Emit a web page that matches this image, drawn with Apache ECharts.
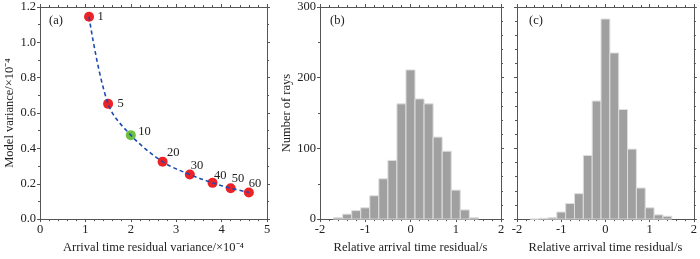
<!DOCTYPE html>
<html>
<head>
<meta charset="utf-8">
<script src="https://cdn.jsdelivr.net/npm/echarts@6/dist/echarts.min.js"></script>
<style>
html, body { margin: 0; padding: 0; background: #fff; }
#main { width: 700px; height: 259px; }
</style>
</head>
<body>
<div id="main"></div>
<script>
// L-curve (a): damping / iteration labels and variances
var lcurveLabels = ['1', '5', '10', '20', '30', '40', '50', '60'];
var residualVar = [1.08, 1.5, 2.0, 2.7, 3.3, 3.8, 4.2, 4.6];
var modelVar = [1.145, 0.652, 0.475, 0.325, 0.252, 0.205, 0.175, 0.151];

// histograms (b) and (c): bin centres and counts
var binCenters = [-1.6, -1.4, -1.2, -1.0, -0.8, -0.6, -0.4, -0.2, 0.0, 0.2, 0.4, 0.6, 0.8, 1.0, 1.2, 1.4];
var countsB = [2, 7, 12, 16, 33, 57, 83, 163, 211, 170, 163, 116, 96, 41, 13, 2];
var countsC = [0, 1, 2, 10, 22, 36, 90, 167, 283, 235, 155, 99, 44, 16, 6, 4];

var myChart = echarts.init(document.getElementById('main'));
var font = 'Liberation Serif';
var fs = 12.5;
var axisColor = '#555';

function mkAxis(o) {
	var base = {
		axisLine: { show: true, onZero: false, lineStyle: { color: axisColor, width: 1 } },
		axisTick: { show: true, inside: false, length: 3, lineStyle: { color: axisColor } },
		minorTick: { show: true, length: 2, splitNumber: 5, lineStyle: { color: axisColor } },
		splitLine: { show: false },
		axisLabel: { show: true, color: '#222', fontFamily: font, fontSize: fs, margin: 4 },
		nameTextStyle: { color: '#222', fontFamily: font, fontSize: fs }
	};
	return echarts.util.merge(base, o, true);
}

var binW = binCenters[1] - binCenters[0];
function histRender(params, api) {
	var x = api.value(0), y = api.value(1);
	var p0 = api.coord([x - binW / 2, 0]);
	var p1 = api.coord([x + binW / 2, y]);
	return {
		type: 'rect',
		shape: { x: p0[0], y: p1[1], width: p1[0] - p0[0], height: p0[1] - p1[1] },
		style: { fill: '#a0a0a0', stroke: '#dedede', lineWidth: 1 }
	};
}

var grids = [
	{ left: 40, right: 433, top: 7, bottom: 30 },
	{ left: 320, right: 199, top: 7, bottom: 29 },
	{ left: 517, right: 3, top: 7, bottom: 29 }
];

var xAxes = [], yAxes = [];
// panel a
xAxes.push(mkAxis({ gridIndex: 0, type: 'value', min: 0, max: 5, interval: 1, position: 'bottom',
	name: 'Arrival time residual variance/×10⁻⁴', nameLocation: 'middle', nameGap: 15 }));
xAxes.push(mkAxis({ gridIndex: 0, type: 'value', min: 0, max: 5, interval: 1, position: 'top', axisLabel: { show: false } }));
yAxes.push(mkAxis({ gridIndex: 0, type: 'value', min: 0, max: 1.2, interval: 0.2, position: 'left',
	minorTick: { splitNumber: 2 },
	axisLabel: { formatter: function(v) { return v.toFixed(1); } },
	name: 'Model variance/×10⁻⁴', nameLocation: 'middle', nameGap: 19 }));
yAxes.push(mkAxis({ gridIndex: 0, type: 'value', min: 0, max: 1.2, interval: 0.2, position: 'right',
	minorTick: { splitNumber: 2 }, axisLabel: { show: false } }));
// panels b, c
[1, 2].forEach(function(g) {
	xAxes.push(mkAxis({ gridIndex: g, type: 'value', min: -2, max: 2, interval: 1, position: 'bottom',
		name: 'Relative arrival time residual/s', nameLocation: 'middle', nameGap: 16 }));
	xAxes.push(mkAxis({ gridIndex: g, type: 'value', min: -2, max: 2, interval: 1, position: 'top', axisLabel: { show: false } }));
	yAxes.push(mkAxis({ gridIndex: g, type: 'value', min: 0, max: 300, interval: 100, position: 'left',
		minorTick: { splitNumber: g === 1 ? 2 : 5 },
		axisLabel: { show: g === 1 },
		name: g === 1 ? 'Number of rays' : '', nameLocation: 'middle', nameGap: 26 }));
	yAxes.push(mkAxis({ gridIndex: g, type: 'value', min: 0, max: 300, interval: 100, position: 'right',
		minorTick: { splitNumber: 5 }, axisLabel: { show: false } }));
});

// label nudges for the L-curve points
var labelOffsets = [[0.5, 0], [1.5, 0], [-0.5, -3], [-3.5, -9], [-7, -9], [-6.5, -7], [-7, -9], [-8, -8.5]];

var lineData = residualVar.map(function(x, i) { return [x, modelVar[i]]; });
var pointData = residualVar.map(function(x, i) {
	return {
		value: [x, modelVar[i]],
		itemStyle: { color: lcurveLabels[i] === '10' ? '#6cbf3f' : '#ec2227', opacity: 1 },
		label: { offset: labelOffsets[i] }
	};
});

var titleStyle = { fontFamily: font, fontSize: fs, fontWeight: 'normal', color: '#222' };

myChart.setOption({
	animation: false,
	backgroundColor: '#fff',
	title: [
		{ text: '(a)', left: 49, top: 14, padding: 0, textStyle: titleStyle },
		{ text: '(b)', left: 330, top: 14, padding: 0, textStyle: titleStyle },
		{ text: '(c)', left: 529, top: 14, padding: 0, textStyle: titleStyle }
	],
	grid: grids,
	xAxis: xAxes,
	yAxis: yAxes,
	series: [
		{
			type: 'line', xAxisIndex: 0, yAxisIndex: 0, data: lineData,
			smooth: 0.35, showSymbol: false,
			lineStyle: { color: '#1d4cb0', width: 1.6, type: [4, 3] }
		},
		{
			type: 'scatter', xAxisIndex: 0, yAxisIndex: 0, data: pointData,
			symbolSize: 10,
			label: {
				show: true, position: 'right', distance: 3,
				fontFamily: font, fontSize: fs, color: '#222',
				formatter: function(p) { return lcurveLabels[p.dataIndex]; }
			}
		},
		{
			type: 'custom', xAxisIndex: 2, yAxisIndex: 2,
			data: binCenters.map(function(x, i) { return [x, countsB[i]]; }),
			renderItem: histRender
		},
		{
			type: 'custom', xAxisIndex: 4, yAxisIndex: 4,
			data: binCenters.map(function(x, i) { return [x, countsC[i]]; }),
			renderItem: histRender
		}
	]
});
</script>
</body>
</html>
